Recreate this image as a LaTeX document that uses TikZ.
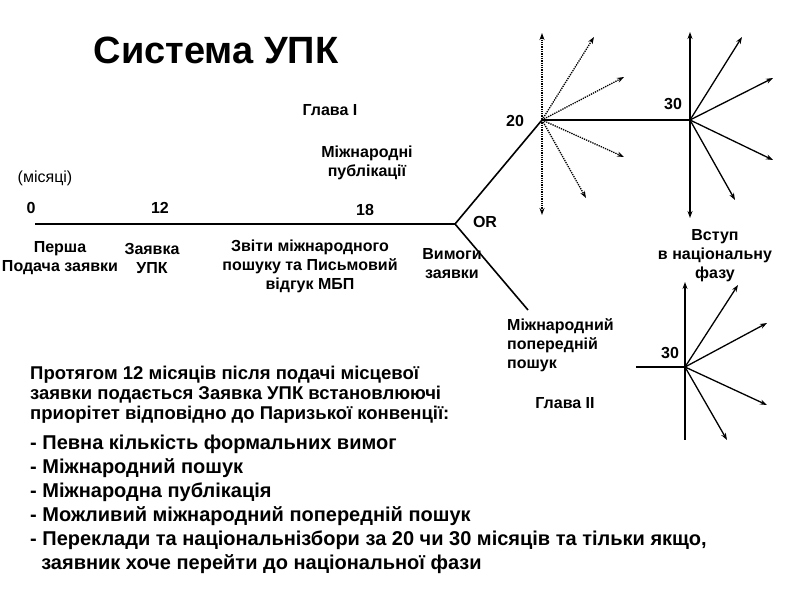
\documentclass[tikz,border=0pt]{standalone}
\usepackage{fontspec}
\setmainfont{Liberation Sans}
\usetikzlibrary{arrows.meta}
\begin{document}
\begin{tikzpicture}[x=1pt,y=-1pt,
  ln/.style={line width=1.6pt},
  ar/.style={line width=1.3pt,-{Stealth[length=7pt,width=5pt]}},
  dar/.style={line width=1.3pt,densely dotted,-{Stealth[length=7pt,width=5pt]}},
  t/.style={font=\bfseries\fontsize{16}{19}\selectfont,inner sep=0pt,align=center},
  tb/.style={font=\bfseries\fontsize{18.5}{20}\selectfont,inner sep=0pt,align=left,anchor=north west},
  tl/.style={font=\bfseries\fontsize{20}{24}\selectfont,inner sep=0pt,align=left,anchor=north west}]
\useasboundingbox (0,0) rectangle (792,612);
\coordinate (s) at (35,224);
\coordinate (or) at (455,224);
\coordinate (c20) at (542,120);
\coordinate (c30) at (690,120);
\coordinate (lp) at (528,310);
\coordinate (c2) at (685,367);
\coordinate (h2) at (636,367);
\draw[ln] (s) -- (or) -- (c20) -- (c30);
\draw[ln] (or) -- (lp);
\draw[dar,{Stealth[length=7pt,width=5pt]}-{Stealth[length=7pt,width=5pt]}] (542,33) -- (542,215);
\foreach \p in {(594,37),(624,77),(624,157),(586,198)} \draw[dar] (c20) -- \p;
\draw[ar,{Stealth[length=7pt,width=5pt]}-{Stealth[length=7pt,width=5pt]}] (690,32) -- (690,218);
\foreach \p in {(742,37),(773,78),(773,160),(735,200)} \draw[ar] (c30) -- \p;
\draw[ln] (h2) -- (c2);
\draw[ar,{Stealth[length=7pt,width=5pt]}-] (685,282) -- (685,440);
\foreach \p in {(738,285),(767,323),(767,405),(727,440)} \draw[ar] (c2) -- \p;
\node[font=\bfseries\fontsize{38}{40}\selectfont,inner sep=0pt] (title) at (216,50) {Система УПК};
\node[t] (g1) at (330,110) {Глава І};
\node[t] (n20) at (515,121) {20};
\node[t] (n30) at (673,104) {30};
\node[t] (mp) at (367,163) {Міжнародні\\публікації};
\node[t,font=\fontsize{16}{19}\selectfont] (mis) at (45,178) {(місяці)};
\node[t] (n0) at (31,208) {0};
\node[t] (n12) at (160,208) {12};
\node[t] (n18) at (365,210) {18};
\node[t] (orl) at (485,222) {OR};
\node[t] (vst) at (715,256) {Вступ\\в національну\\фазу};
\node[t] (pp) at (60,258) {Перша\\Подача заявки};
\node[t] (zu) at (152,258) {Заявка\\УПК};
\node[t] (zv) at (310,266) {Звіти міжнародного\\пошуку та Письмовий\\відгук МБП};
\node[t] (vz) at (452,264) {Вимоги\\заявки};
\node[t,align=left,anchor=north west] (mpp) at (507,318) {Міжнародний\\попередній\\пошук};
\node[t] (n30b) at (670,353) {30};
\node[t] (g2) at (565,403) {Глава ІІ};
\node[tb] (par) at (30,366) {Протягом 12 місяців після подачі місцевої\\заявки подається Заявка УПК встановлюючі\\приорітет відповідно до Паризької  конвенції:};
\node[tl] (lst) at (30,435) {- Певна кількість формальних вимог\\- Міжнародний пошук\\- Міжнародна публікація\\- Можливий міжнародний попередній пошук\\- Переклади та національнізбори за 20 чи 30 місяців та тільки якщо,\\\ \ заявник хоче перейти до національної фази};
\end{tikzpicture}
\end{document}
